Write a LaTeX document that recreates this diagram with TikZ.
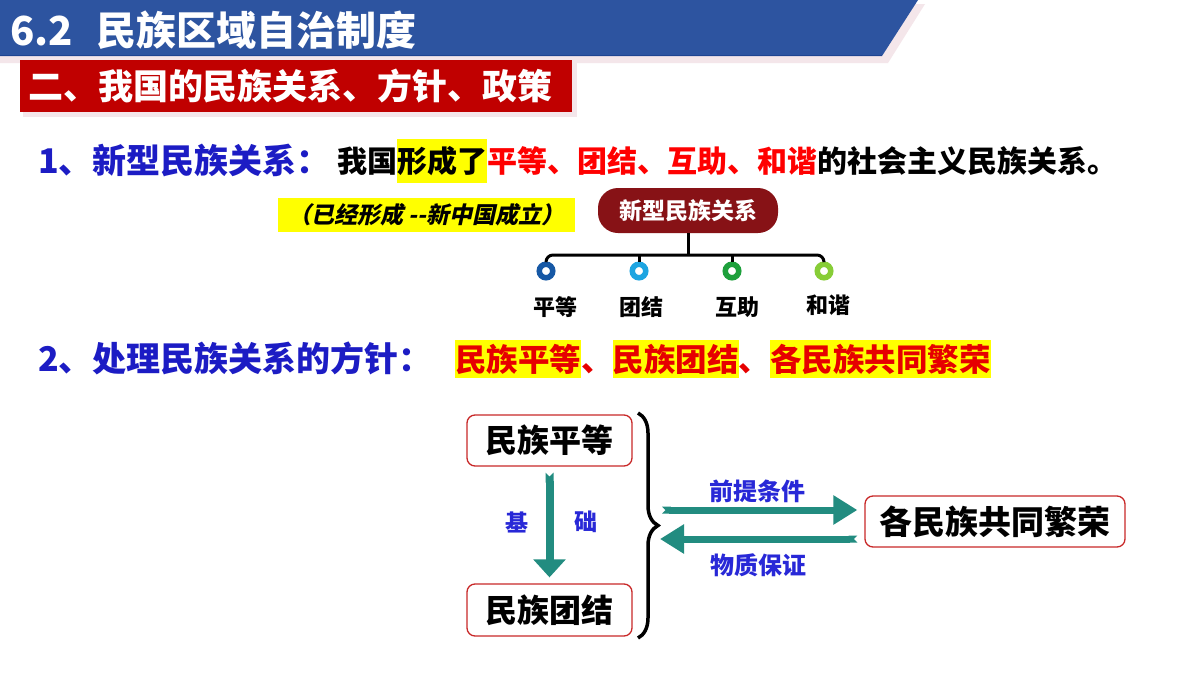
\documentclass[tikz,border=0pt]{standalone}
\usepackage{fontspec}
\setmainfont{Noto Sans CJK SC}
\newfontfamily\hb{Noto Sans CJK SC}[UprightFont=* Black]
\newfontfamily\hbit{Noto Sans CJK SC}[UprightFont=* Black,FakeSlant=0.22]
\newcommand\myfs[1]{\fontsize{#1}{#1}\selectfont}
\usetikzlibrary{arrows.meta,decorations.pathreplacing,calc}
\definecolor{bannerblue}{RGB}{45,84,160}
\definecolor{bannerdark}{RGB}{30,68,145}
\definecolor{shadowpink}{RGB}{244,230,234}
\definecolor{bannerred}{RGB}{192,0,0}
\definecolor{headblue}{RGB}{28,28,196}
\definecolor{hlyellow}{RGB}{255,255,0}
\definecolor{txtred}{RGB}{255,0,0}
\definecolor{txtredb}{RGB}{230,0,0}
\definecolor{darkred}{RGB}{135,18,22}
\definecolor{arrowteal}{RGB}{34,140,128}
\definecolor{lblue}{RGB}{40,40,215}
\definecolor{boxred}{RGB}{200,40,40}
\definecolor{cA}{RGB}{22,88,165}
\definecolor{cB}{RGB}{30,165,225}
\definecolor{cC}{RGB}{30,160,60}
\definecolor{cD}{RGB}{135,205,55}
\begin{document}
\begin{tikzpicture}[x=1pt,y=-1pt,
  txt/.style={inner sep=0pt, outer sep=0pt, anchor=base west},
  hltwo/.style={txt, fill=hlyellow, text=txtredb, text height=27pt, text depth=3pt, inner ysep=4pt, font=\hb\myfs{31.5}},
  ring/.style={circle, draw=#1, line width=5.5pt, fill=white, minimum size=13.5pt, inner sep=0pt},
  tlabel/.style={font=\hb\myfs{22}, inner sep=0pt},
  pbox/.style={draw=boxred, line width=1.3pt, rounded corners=8pt, fill=white, inner sep=0pt, font=\hb\myfs{32}},
  tarrow/.style={draw=arrowteal, {Triangle Cap[reversed]}-{Triangle[length=#1]}},
  blab/.style={text=lblue, font=\hb\myfs{24}, inner sep=0pt}]
\useasboundingbox (0,0) rectangle (1200,675);
\fill[white] (0,0) rectangle (1200,675);

% title banner
\fill[shadowpink] (0,4) -- (925,4) -- (888,63) -- (0,63) -- cycle;
\fill[bannerblue] (0,0) -- (918,0) -- (882,56) -- (0,56) -- cycle;
\draw[bannerdark, line width=1.5pt] (0,55.5) -- (882,55.5);
\node[txt, text=white, font=\hb\myfs{40}] (t1) at (10,45) {6.2};
\node[txt, text=white, font=\hb\myfs{40}] (t2) at (96,45) {民族区域自治制度};

% red banner
\fill[shadowpink] (23,63) rectangle (577,117);
\node[fill=bannerred, minimum width=552pt, minimum height=52pt, inner sep=0pt, anchor=north west] (rb) at (20,60) {};
\node[txt, text=white, font=\hb\myfs{35}] (rbt) at (28,99) {二、我国的民族关系、方针、政策};

% line 1
\node[txt, text=headblue, font=\hb\myfs{34}] (l1h) at (38,173) {1、新型民族关系：};
\node[txt, font=\hb\myfs{30}] (l1a) at (337,172) {我国};
\node[txt, fill=hlyellow, text height=26pt, text depth=4pt, inner ysep=7pt, font=\hb\myfs{30}] (l1b) at (l1a.base east) {形成了};
\node[txt, text=txtred, font=\hb\myfs{30}] (l1c) at (l1b.base east) {平等、团结、互助、和谐};
\node[txt, font=\hb\myfs{30}] (l1d) at (l1c.base east) {的社会主义民族关系。};

% note
\node[fill=hlyellow, minimum width=297pt, minimum height=34pt, inner sep=0pt, font=\hbit\myfs{23}] (note) at (426.5,215) {（已经形成 --新中国成立）};

% tree
\node[fill=darkred, rounded corners=20pt, minimum width=180pt, minimum height=45pt, inner sep=0pt, text=white, font=\hb\myfs{23}] (nr) at (688,210.5) {新型民族关系};
\node[ring=cA] (c1) at (546,271) {};
\node[ring=cB] (c2) at (639,271) {};
\node[ring=cC] (c3) at (732,271) {};
\node[ring=cD] (c4) at (824,271) {};
\coordinate (hy) at (0,255);
\draw[line width=3pt, rounded corners=7pt] (c1.north) |- (c4 |- hy) -- (c4.north);
\draw[line width=3pt] (nr.south) -- (nr.south |- hy);
\draw[line width=3pt] (c2.north) -- (c2 |- hy);
\draw[line width=3pt] (c3.north) -- (c3 |- hy);
\node[tlabel] (lb1) at (555,307) {平等};
\node[tlabel] (lb2) at (641,307) {团结};
\node[tlabel] (lb3) at (737,307) {互助};
\node[tlabel] (lb4) at (828,305) {和谐};

% line 2
\node[txt, text=headblue, font=\hb\myfs{34}] (l2h) at (38,371) {2、处理民族关系的方针：};
\node[hltwo] (m1) at (455,371) {民族平等};
\node[txt, text=txtredb, font=\hb\myfs{31.5}] (s1) at (m1.base east) {、};
\node[hltwo] (m2) at (s1.base east) {民族团结};
\node[txt, text=txtredb, font=\hb\myfs{31.5}] (s2) at (m2.base east) {、};
\node[hltwo] (m3) at (s2.base east) {各民族共同繁荣};

% bottom diagram
\node[pbox, minimum width=165pt, minimum height=51pt] (p1) at (549.5,440.5) {民族平等};
\node[pbox, minimum width=165pt, minimum height=52pt] (p2) at (549.5,610) {民族团结};
\node[pbox, minimum width=260pt, minimum height=51pt, font=\hb\myfs{33}] (p3) at (995,521.5) {各民族共同繁荣};

\draw[tarrow={18pt 0 0 width=20pt}, line width=8pt, shorten <=6pt, shorten >=6pt] (p1.south) -- (p2.north);
\node[blab, font=\hb\myfs{23}] (k1) at (517,522) {基};
\node[blab, font=\hb\myfs{23}] (k2) at (586,522) {础};

\draw[line width=3.5pt, decorate, decoration={brace, amplitude=20pt}] (638,413) -- (638,638);

\coordinate (a1) at (662,510);
\coordinate (a2) at (660,539);
\draw[tarrow={24pt 0 0 width=18pt}, line width=7pt, shorten >=7pt] (a1) -- (a1 -| p3.west);
\draw[tarrow={24pt 0 0 width=18pt}, line width=7pt, shorten <=7pt] (a2 -| p3.west) -- (a2);
\node[blab] (q1) at (757,491) {前提条件};
\node[blab] (q2) at (758,565) {物质保证};
\end{tikzpicture}
\end{document}
